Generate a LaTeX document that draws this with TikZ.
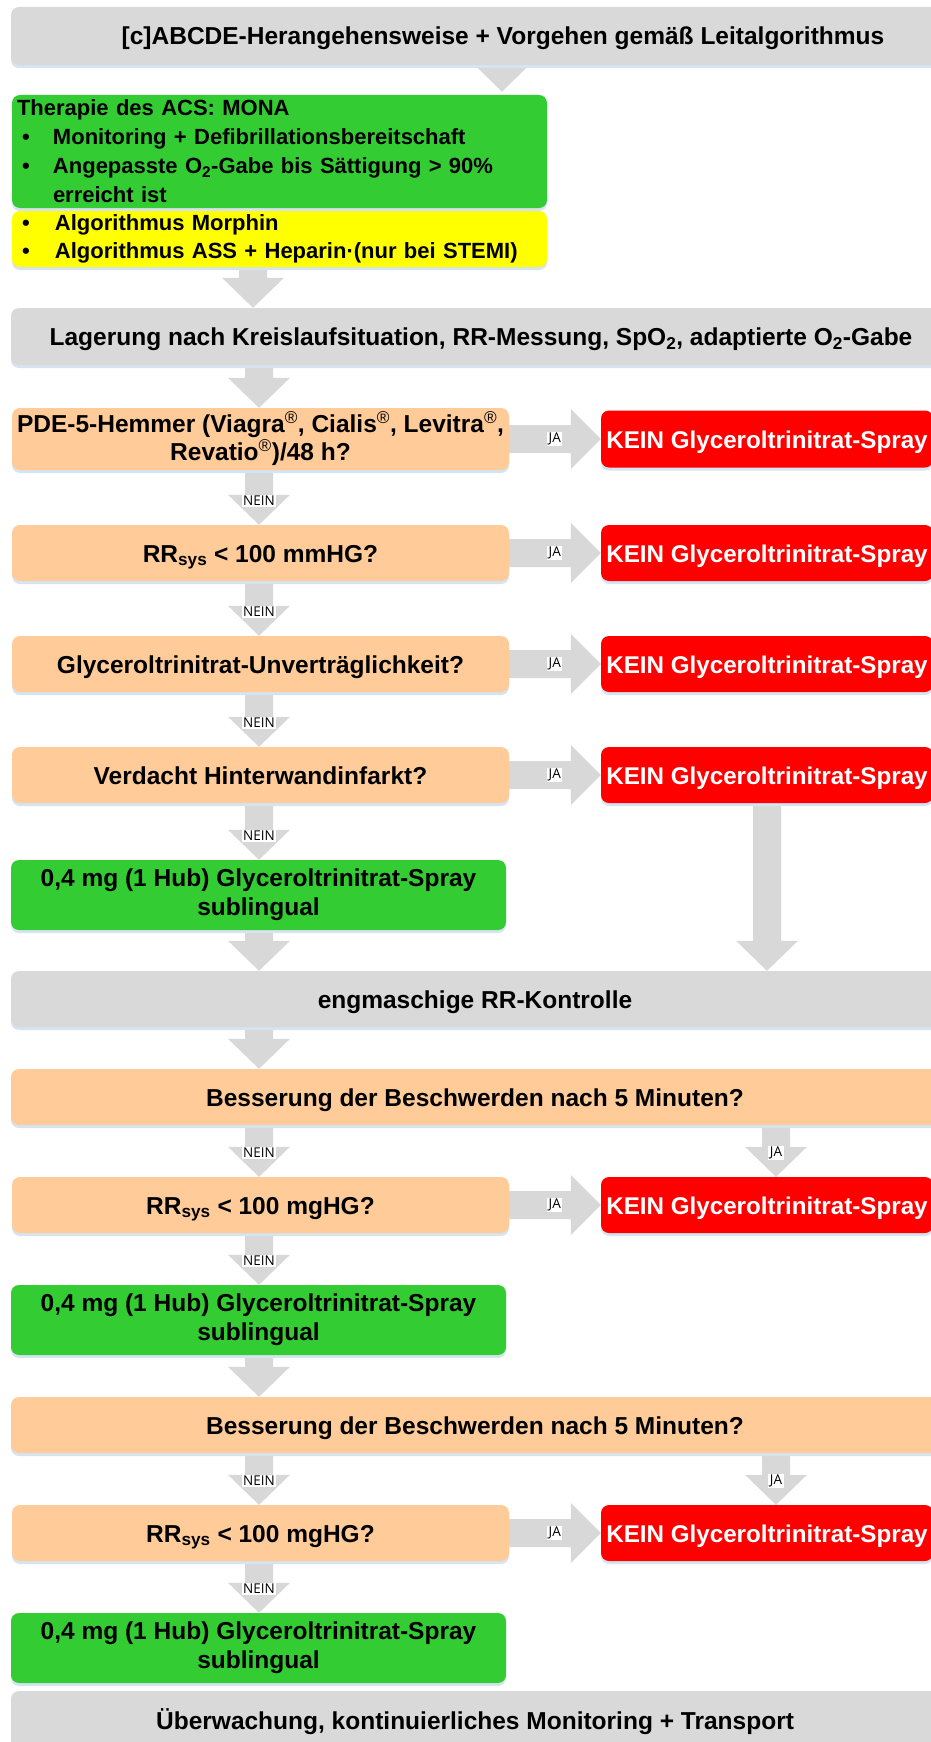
\documentclass[tikz,border=0pt]{standalone}
\usepackage{fontspec}
\setmainfont{Liberation Sans}
\newfontfamily\lblfont{Open Sans}
\usetikzlibrary{calc,shadows}

\definecolor{boxgray}{HTML}{D9D9D9}
\definecolor{arrowgray}{HTML}{D8D8D8}
\definecolor{shadowblue}{RGB}{214,227,241}
\definecolor{peach}{HTML}{FFCC99}
\definecolor{leafgreen}{HTML}{33CC33}
\definecolor{alertred}{HTML}{FF0000}
\definecolor{signyellow}{HTML}{FFFF00}

\pgfdeclarelayer{paper}
\pgfdeclarelayer{arrows}
\pgfsetlayers{paper,arrows,main}

\tikzset{
  box/.style={rectangle, rounded corners=8pt, inner sep=0pt, align=center,
    font=\bfseries\fontsize{24.5}{28}\selectfont,
    general shadow={shadow yshift=-3pt, fill=shadowblue}},
  oneline/.style={text height=18pt, text depth=0pt},
  graybox/.style={box, oneline, fill=boxgray},
  question/.style={box, fill=peach},
  dose/.style={box, fill=leafgreen, font=\bfseries\fontsize{24.5}{29}\selectfont},
  stopbox/.style={box, oneline, fill=alertred, text=white,
    font=\bfseries\fontsize{24.2}{28}\selectfont},
  flowarrow/.style={fill=arrowgray},
  tag/.style={fill=white, inner xsep=1.5pt, inner ysep=1pt,
    font=\lblfont\fontsize{13.5}{14}\selectfont},
}

% vertical block arrow: column coordinate, source node, target node
\newcommand\flowdown[3]{%
  \begin{pgfonlayer}{arrows}
  \fill[flowarrow] let \p1=(#2.south -| #1), \p2=(#3.north -| #1) in
    (\x1-14pt,\y1) -- (\x1+14pt,\y1) -- (\x1+14pt,\y2+30pt) -- (\x1+31pt,\y2+30pt)
    -- (\x2,\y2) -- (\x1-31pt,\y2+30pt) -- (\x1-14pt,\y2+30pt) -- cycle;
  \end{pgfonlayer}}

% vertical block arrow with a tag on its head
\newcommand\flowdowntag[5]{%
  \flowdown{#1}{#2}{#3}
  \path let \p2=(#3.north -| #1) in node[tag] (#4) at (\x2,\y2+24pt) {#5};}

% horizontal block arrow with a tag: source node, target node, tag name, tag text
\newcommand\flowright[4]{%
  \begin{pgfonlayer}{arrows}
  \fill[flowarrow] let \p1=(#1.east), \p2=(#2.west |- #1.east) in
    (\x1,\y1-14pt) -- (\x2-30pt,\y1-14pt) -- (\x2-30pt,\y1-30pt) -- (\x2,\y1)
    -- (\x2-30pt,\y1+30pt) -- (\x2-30pt,\y1+14pt) -- (\x1,\y1+14pt) -- cycle;
  \end{pgfonlayer}
  \path let \p2=(#2.west |- #1.east) in node[tag] (#3) at (\x2-46pt,\y2) {#4};}

\begin{document}
\begin{tikzpicture}[x=1pt, y=1pt]
\useasboundingbox (0,0) rectangle (931,-1742);
\begin{pgfonlayer}{paper}
\fill[white] (0,0) rectangle (931,-1742);
\end{pgfonlayer}
\clip (0,0) rectangle (931,-1742);

% columns of the arrows
\coordinate (colA) at (253,0);
\coordinate (colB) at (259,0);
\coordinate (colT) at (502,0);
\coordinate (colR) at (767,0);
\coordinate (colJ) at (776,0);

% boxes
\node[graybox, minimum width=984pt, minimum height=58pt] (top) at (503,-36)
  {[c]ABCDE-Herangehensweise + Vorgehen gemäß Leitalgorithmus};

\node[box, fill=leafgreen, minimum width=535pt, minimum height=113pt,
  text width=525pt, align=left, font=\bfseries\fontsize{22}{29}\selectfont] (acs) at (279.5,-151.5)
  {Therapie des ACS: MONA\\
   \hspace*{5pt}\makebox[31pt][l]{•}Monitoring + Defibrillationsbereitschaft\\
   \hspace*{5pt}\makebox[31pt][l]{•}Angepasste O\textsubscript{2}-Gabe bis Sättigung > 90\%\\
   \hspace*{36pt}erreicht ist};

\node[box, fill=signyellow, minimum width=535pt, minimum height=56pt,
  text width=525pt, align=left, font=\bfseries\fontsize{22}{28}\selectfont] (mona) at (279.5,-239)
  {\hspace*{5pt}\makebox[33pt][l]{•}Algorithmus Morphin\\
   \hspace*{5pt}\makebox[33pt][l]{•}Algorithmus ASS + Heparin·(nur bei STEMI)};

\node[graybox, minimum width=940pt, minimum height=57pt] (lag) at (481,-336.5)
  {Lagerung nach Kreislaufsituation, RR-Messung, SpO\textsubscript{2}, adaptierte O\textsubscript{2}-Gabe};

\node[question, minimum width=497pt, minimum height=62pt] (pde) at (260.5,-439)
  {PDE-5-Hemmer (Viagra\textsuperscript{\mdseries ®}, Cialis\textsuperscript{\mdseries ®}, Levitra\textsuperscript{\mdseries ®},\\
   Revatio\textsuperscript{\mdseries ®})/48 h?};
\node[stopbox, minimum width=332pt, minimum height=57pt] (k1) at (767,-439) {KEIN Glyceroltrinitrat-Spray};

\node[question, oneline, minimum width=497pt, minimum height=56pt] (rr1) at (260.5,-553)
  {RR\textsubscript{sys} < 100 mmHG?};
\node[stopbox, minimum width=332pt, minimum height=56pt] (k2) at (767,-553) {KEIN Glyceroltrinitrat-Spray};

\node[question, oneline, minimum width=497pt, minimum height=56pt] (gtn) at (260.5,-664)
  {Glyceroltrinitrat-Unverträglichkeit?};
\node[stopbox, minimum width=332pt, minimum height=56pt] (k3) at (767,-664) {KEIN Glyceroltrinitrat-Spray};

\node[question, oneline, minimum width=497pt, minimum height=56pt] (hwi) at (260.5,-775)
  {Verdacht Hinterwandinfarkt?};
\node[stopbox, minimum width=332pt, minimum height=56pt] (k4) at (767,-775) {KEIN Glyceroltrinitrat-Spray};

\node[dose, minimum width=495pt, minimum height=70pt] (g1) at (258.5,-895)
  {0,4 mg (1 Hub) Glyceroltrinitrat-Spray\\sublingual};

\node[graybox, minimum width=928pt, minimum height=56pt] (rrk) at (475,-999)
  {engmaschige RR-Kontrolle};

\node[question, oneline, minimum width=928pt, minimum height=56pt] (b1) at (475,-1097)
  {Besserung der Beschwerden nach 5 Minuten?};

\node[question, oneline, minimum width=497pt, minimum height=56pt] (rr2) at (260.5,-1205)
  {RR\textsubscript{sys} < 100 mgHG?};
\node[stopbox, minimum width=332pt, minimum height=56pt] (k5) at (767,-1205) {KEIN Glyceroltrinitrat-Spray};

\node[dose, minimum width=495pt, minimum height=70pt] (g2) at (258.5,-1320)
  {0,4 mg (1 Hub) Glyceroltrinitrat-Spray\\sublingual};

\node[question, oneline, minimum width=928pt, minimum height=56pt] (b2) at (475,-1425)
  {Besserung der Beschwerden nach 5 Minuten?};

\node[question, oneline, minimum width=497pt, minimum height=56pt] (rr3) at (260.5,-1533)
  {RR\textsubscript{sys} < 100 mgHG?};
\node[stopbox, minimum width=332pt, minimum height=56pt] (k6) at (767,-1533) {KEIN Glyceroltrinitrat-Spray};

\node[dose, minimum width=495pt, minimum height=70pt] (g3) at (258.5,-1648)
  {0,4 mg (1 Hub) Glyceroltrinitrat-Spray\\sublingual};

\node[graybox, minimum width=928pt, minimum height=58pt] (end) at (475,-1720)
  {Überwachung, kontinuierliches Monitoring + Transport};

% pointer from the first box
\begin{pgfonlayer}{arrows}
\fill[flowarrow] let \p1=(top.south -| colT), \p2=(acs.north -| colT) in
  (\x1-27pt,\y1) -- (\x1+27pt,\y1) -- (\x2,\y2+3pt) -- cycle;
\end{pgfonlayer}

% main column
\flowdown{colA}{mona}{lag}
\flowdown{colB}{lag}{pde}
\flowdowntag{colB}{pde}{rr1}{n1}{NEIN}
\flowdowntag{colB}{rr1}{gtn}{n2}{NEIN}
\flowdowntag{colB}{gtn}{hwi}{n3}{NEIN}
\flowdowntag{colB}{hwi}{g1}{n4}{NEIN}
\flowdown{colB}{g1}{rrk}
\flowdown{colB}{rrk}{b1}
\flowdowntag{colB}{b1}{rr2}{n5}{NEIN}
\flowdowntag{colB}{rr2}{g2}{n6}{NEIN}
\flowdown{colB}{g2}{b2}
\flowdowntag{colB}{b2}{rr3}{n7}{NEIN}
\flowdowntag{colB}{rr3}{g3}{n8}{NEIN}

% right column
\flowdown{colR}{k4}{rrk}
\flowdowntag{colJ}{b1}{k5}{j7}{JA}
\flowdowntag{colJ}{b2}{k6}{j8}{JA}

% branches to the right
\flowright{pde}{k1}{j1}{JA}
\flowright{rr1}{k2}{j2}{JA}
\flowright{gtn}{k3}{j3}{JA}
\flowright{hwi}{k4}{j4}{JA}
\flowright{rr2}{k5}{j5}{JA}
\flowright{rr3}{k6}{j6}{JA}
\end{tikzpicture}
\end{document}
